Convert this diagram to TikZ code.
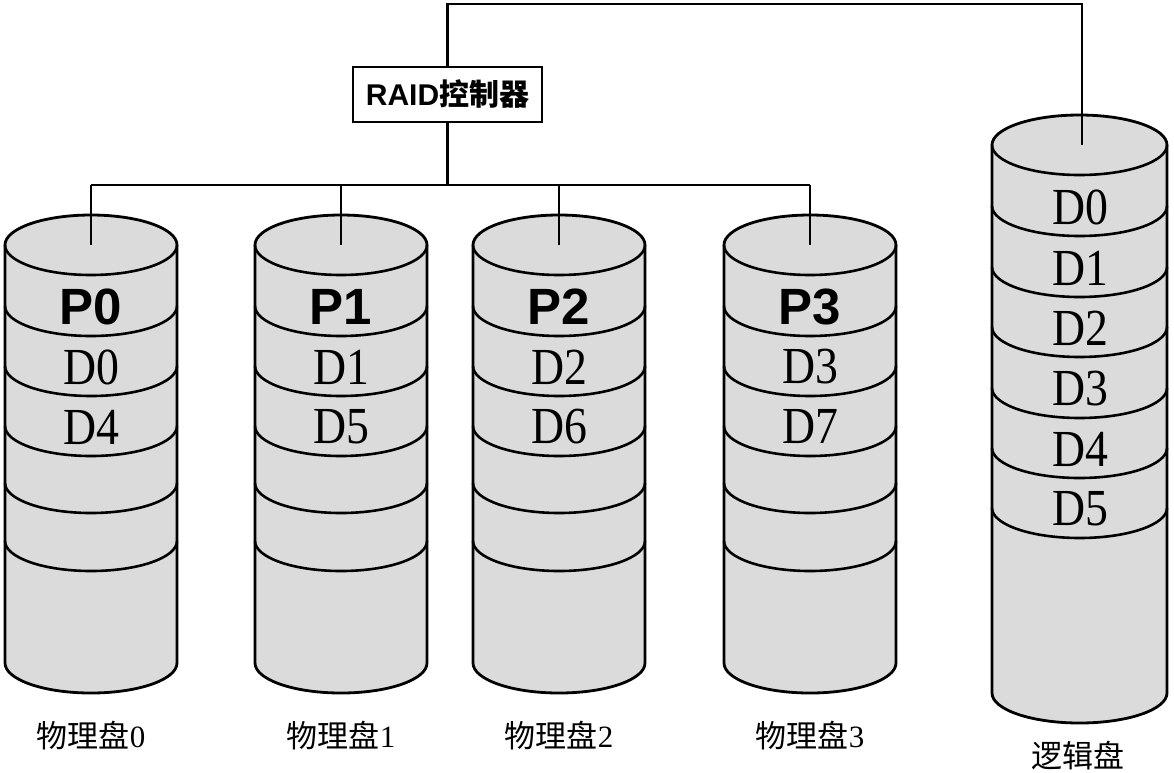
\documentclass[tikz,border=0pt]{standalone}
\usepackage{fontspec}
\setmainfont{Liberation Serif}
\setsansfont{Liberation Sans}
\newfontfamily\cjk{Noto Sans CJK SC}
\begin{document}
\begin{tikzpicture}[x=1pt,y=1pt,
  disk/.style={fill=black!14,draw=black,line width=2.8pt},
  band/.style={draw=black,line width=2.6pt},
  wire/.style={draw=black,line width=2.5pt},
  plabel/.style={font=\sffamily\bfseries\fontsize{51}{51}\selectfont},
  dlabel/.style={font=\rmfamily\fontsize{52}{52}\selectfont},
  caption/.style={font=\fontsize{31}{31}\selectfont}]
  \useasboundingbox (0,0) rectangle (1174,-772);

  % Physical disks
  \foreach \cx/\n/\da/\db in {91/0/0/4, 341/1/1/5, 559/2/2/6, 810/3/3/7} {
    \filldraw[disk] (\cx-86,-245) -- (\cx-86,-663)
      arc[start angle=180,end angle=360,x radius=86,y radius=30] -- (\cx+86,-245)
      arc[start angle=0,end angle=180,x radius=86,y radius=30] -- cycle;
    \foreach \yb in {245,306,366,426,483,541}
      \draw[band] (\cx-86,-\yb) arc[start angle=180,end angle=360,x radius=86,y radius=30];
    \coordinate (top\n) at (\cx,-245);
    \node[plabel] (par\n) at (\cx,-307) {P\n};
    \node[dlabel] (da\n) at (\cx,-367) {\scalebox{0.88}[1]{D\da}};
    \node[dlabel] (db\n) at (\cx,-427) {\scalebox{0.88}[1]{D\db}};
    \node[caption] (cap\n) at (\cx,-736) {{\cjk 物理盘}\n};
  }

  % Logical disk
  \filldraw[disk] (992,-145) -- (992,-693)
    arc[start angle=180,end angle=360,x radius=87.5,y radius=30] -- (1167,-145)
    arc[start angle=0,end angle=180,x radius=87.5,y radius=30] -- cycle;
  \foreach \yb in {145,206,267,327,388,448,508}
    \draw[band] (992,-\yb) arc[start angle=180,end angle=360,x radius=87.5,y radius=30];
  \foreach \k/\yy in {0/207,1/268,2/328,3/389,4/449,5/509}
    \node[dlabel] (ld\k) at (1080,-\yy) {\scalebox{0.88}[1]{D\k}};
  \coordinate (ltop) at (1082,-145);
  \node[caption] (lcap) at (1078,-756) {\cjk 逻辑盘};

  % Controller
  \node[draw,line width=2.5pt,fill=white,minimum width=189pt,minimum height=55pt,inner sep=0pt,
    font=\fontsize{30}{30}\selectfont] (ctrl) at (447.5,-94.5)
    {\sffamily\bfseries RAID{\cjk 控制器}};

  % Wires
  \coordinate (bus) at (447.5,-185);
  \draw[wire] (ctrl.south) -- (bus);
  \draw[wire] (top0 |- bus) -- (top3 |- bus);
  \foreach \n in {0,...,3}
    \draw[wire] (top\n |- bus) -- (top\n);
  \draw[wire] (ctrl.north) -- ++(0,62) -| (ltop);
\end{tikzpicture}
\end{document}
